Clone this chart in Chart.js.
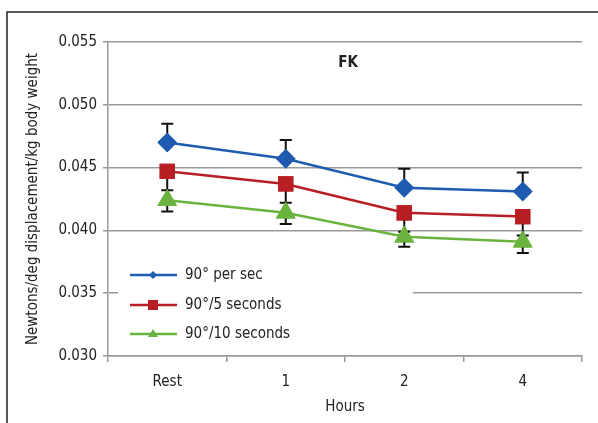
<!DOCTYPE html>
<html>
<head>
<meta charset="utf-8">
<script src="https://cdn.jsdelivr.net/npm/chart.js@4.4.0/dist/chart.umd.min.js"></script>
<style>
  html, body { margin: 0; padding: 0; background: #fff; }
  #wrap { width: 598px; height: 423px; }
</style>
</head>
<body>
<div id="wrap"><canvas id="fk-chart" width="598" height="423"></canvas></div>
<script>
var FONT = '"DejaVu Sans Condensed", "Liberation Sans Narrow", sans-serif';

// data
var hours = ["Rest", "1", "2", "4"];
var perSec = [0.0470, 0.0457, 0.0434, 0.0431];
var fiveSec = [0.0447, 0.0437, 0.0414, 0.0411];
var tenSec = [0.0424, 0.0414, 0.0395, 0.0391];
var perSecErr = [0.0015, 0.0015, 0.0015, 0.0015];
var fiveSecErr = [0.0015, 0.0015, 0.0015, 0.0015];
var tenSecErr = [0.0009, 0.0009, 0.0008, 0.0009];
var yTicks = [0.030, 0.035, 0.040, 0.045, 0.050, 0.055];

var blue = "#1f5bb0", red = "#b81f25", green = "#6bb33f";

// error bars: blue upward, red and green downward
var errorBars = {
    id: 'errorBars',
    afterDatasetsDraw: function (chart) {
        var ctx = chart.ctx, y = chart.scales.y;
        ctx.save();
        ctx.strokeStyle = "#111";
        ctx.lineWidth = 2;
        chart.data.datasets.forEach(function (ds, i) {
            var meta = chart.getDatasetMeta(i);
            meta.data.forEach(function (pt, j) {
                var v = ds.data[j];
                var end = y.getPixelForValue(v + ds.errDir * ds.err[j]);
                ctx.beginPath();
                ctx.moveTo(pt.x, pt.y);
                ctx.lineTo(pt.x, end);
                ctx.moveTo(pt.x - 6, end);
                ctx.lineTo(pt.x + 6, end);
                ctx.stroke();
            });
        });
        ctx.restore();
        // redraw markers on top of the bars
        chart.data.datasets.forEach(function (ds, i) {
            chart.getDatasetMeta(i).data.forEach(function (pt) { pt.draw(ctx); });
        });
    }
};

var frameAndLegend = {
    id: 'frameAndLegend',
    beforeDraw: function (chart) {
        var ctx = chart.ctx;
        ctx.save();
        ctx.strokeStyle = "#222";
        ctx.lineWidth = 1.5;
        ctx.beginPath();
        ctx.moveTo(7, 423);
        ctx.lineTo(7, 12);
        ctx.lineTo(598, 12);
        ctx.stroke();
        ctx.restore();
    },
    afterDraw: function (chart) {
        var ctx = chart.ctx, a = chart.chartArea;
        ctx.save();
        // title inside the plot
        ctx.fillStyle = "#222";
        ctx.font = "bold 15px " + FONT;
        ctx.textAlign = "center";
        ctx.textBaseline = "middle";
        ctx.fillText("FK", 348, 63);

        // legend box
        ctx.fillStyle = "#fff";
        ctx.fillRect(a.left + 10, 262, 295, 84);
        var rows = [
            { text: "90\u00b0 per sec", color: blue, shape: "diamond", y: 275 },
            { text: "90\u00b0/5 seconds", color: red, shape: "square", y: 305 },
            { text: "90\u00b0/10 seconds", color: green, shape: "triangle", y: 334 }
        ];
        rows.forEach(function (r) {
            ctx.strokeStyle = r.color;
            ctx.fillStyle = r.color;
            ctx.lineWidth = 2.5;
            ctx.beginPath();
            ctx.moveTo(130, r.y);
            ctx.lineTo(177, r.y);
            ctx.stroke();
            var cx = 153;
            ctx.beginPath();
            if (r.shape === "diamond") {
                ctx.moveTo(cx, r.y - 4); ctx.lineTo(cx + 4, r.y);
                ctx.lineTo(cx, r.y + 4); ctx.lineTo(cx - 4, r.y);
            } else if (r.shape === "square") {
                ctx.rect(cx - 5, r.y - 5, 10, 10);
            } else {
                ctx.moveTo(cx, r.y - 5); ctx.lineTo(cx + 5, r.y + 3);
                ctx.lineTo(cx - 5, r.y + 3);
            }
            ctx.closePath();
            ctx.fill();
            ctx.fillStyle = "#222";
            ctx.font = "15px " + FONT;
            ctx.textAlign = "left";
            ctx.fillText(r.text, 185, r.y);
        });
        ctx.restore();
    }
};

new Chart(document.getElementById("fk-chart"), {
    type: 'line',
    data: {
        labels: hours,
        datasets: [
            {
                label: "90\u00b0 per sec",
                data: perSec, err: perSecErr, errDir: 1,
                borderColor: blue, backgroundColor: blue,
                pointStyle: 'rectRot', pointRadius: 8, borderWidth: 2.5
            }, {
                label: "90\u00b0/5 seconds",
                data: fiveSec, err: fiveSecErr, errDir: -1,
                borderColor: red, backgroundColor: red,
                pointStyle: 'rect', pointRadius: 9, borderWidth: 2.5
            }, {
                label: "90\u00b0/10 seconds",
                data: tenSec, err: tenSecErr, errDir: -1,
                borderColor: green, backgroundColor: green,
                pointStyle: 'triangle', pointRadius: 9, borderWidth: 2.5
            }
        ]
    },
    options: {
        responsive: false,
        animation: false,
        layout: { padding: { left: 0, right: 16, top: 42, bottom: 0 } },
        plugins: {
            legend: { display: false },
            tooltip: { enabled: false }
        },
        elements: { line: { tension: 0 }, point: { borderWidth: 0 } },
        scales: {
            x: {
                offset: true,
                grid: { offset: true, drawOnChartArea: false, color: "#999", tickLength: 6, lineWidth: 1.5 },
                border: { color: "#999", width: 1.5 },
                ticks: { color: "#222", font: { family: FONT, size: 15 }, padding: 11 },
                title: { display: true, text: "Hours", color: "#222", font: { family: FONT, size: 15 }, padding: 7 },
                afterFit: function (s) { s.height = 67; }
            },
            y: {
                min: 0.030, max: 0.055,
                afterBuildTicks: function (s) { s.ticks = yTicks.map(function (v) { return { value: v }; }); },
                grid: { color: "#999", tickLength: 5, lineWidth: 1.5 },
                border: { color: "#999", width: 1.5 },
                ticks: {
                    color: "#222", font: { family: FONT, size: 15 }, padding: 6,
                    callback: function (v) { return Number(v).toFixed(3); }
                },
                title: {
                    display: true, text: "Newtons/deg displacement/kg body weight",
                    color: "#222", font: { family: FONT, size: 15 }, padding: { top: 24, bottom: 0 }
                },
                afterFit: function (s) { s.width = 108; }
            }
        }
    },
    plugins: [frameAndLegend, errorBars]
});
</script>
</body>
</html>
